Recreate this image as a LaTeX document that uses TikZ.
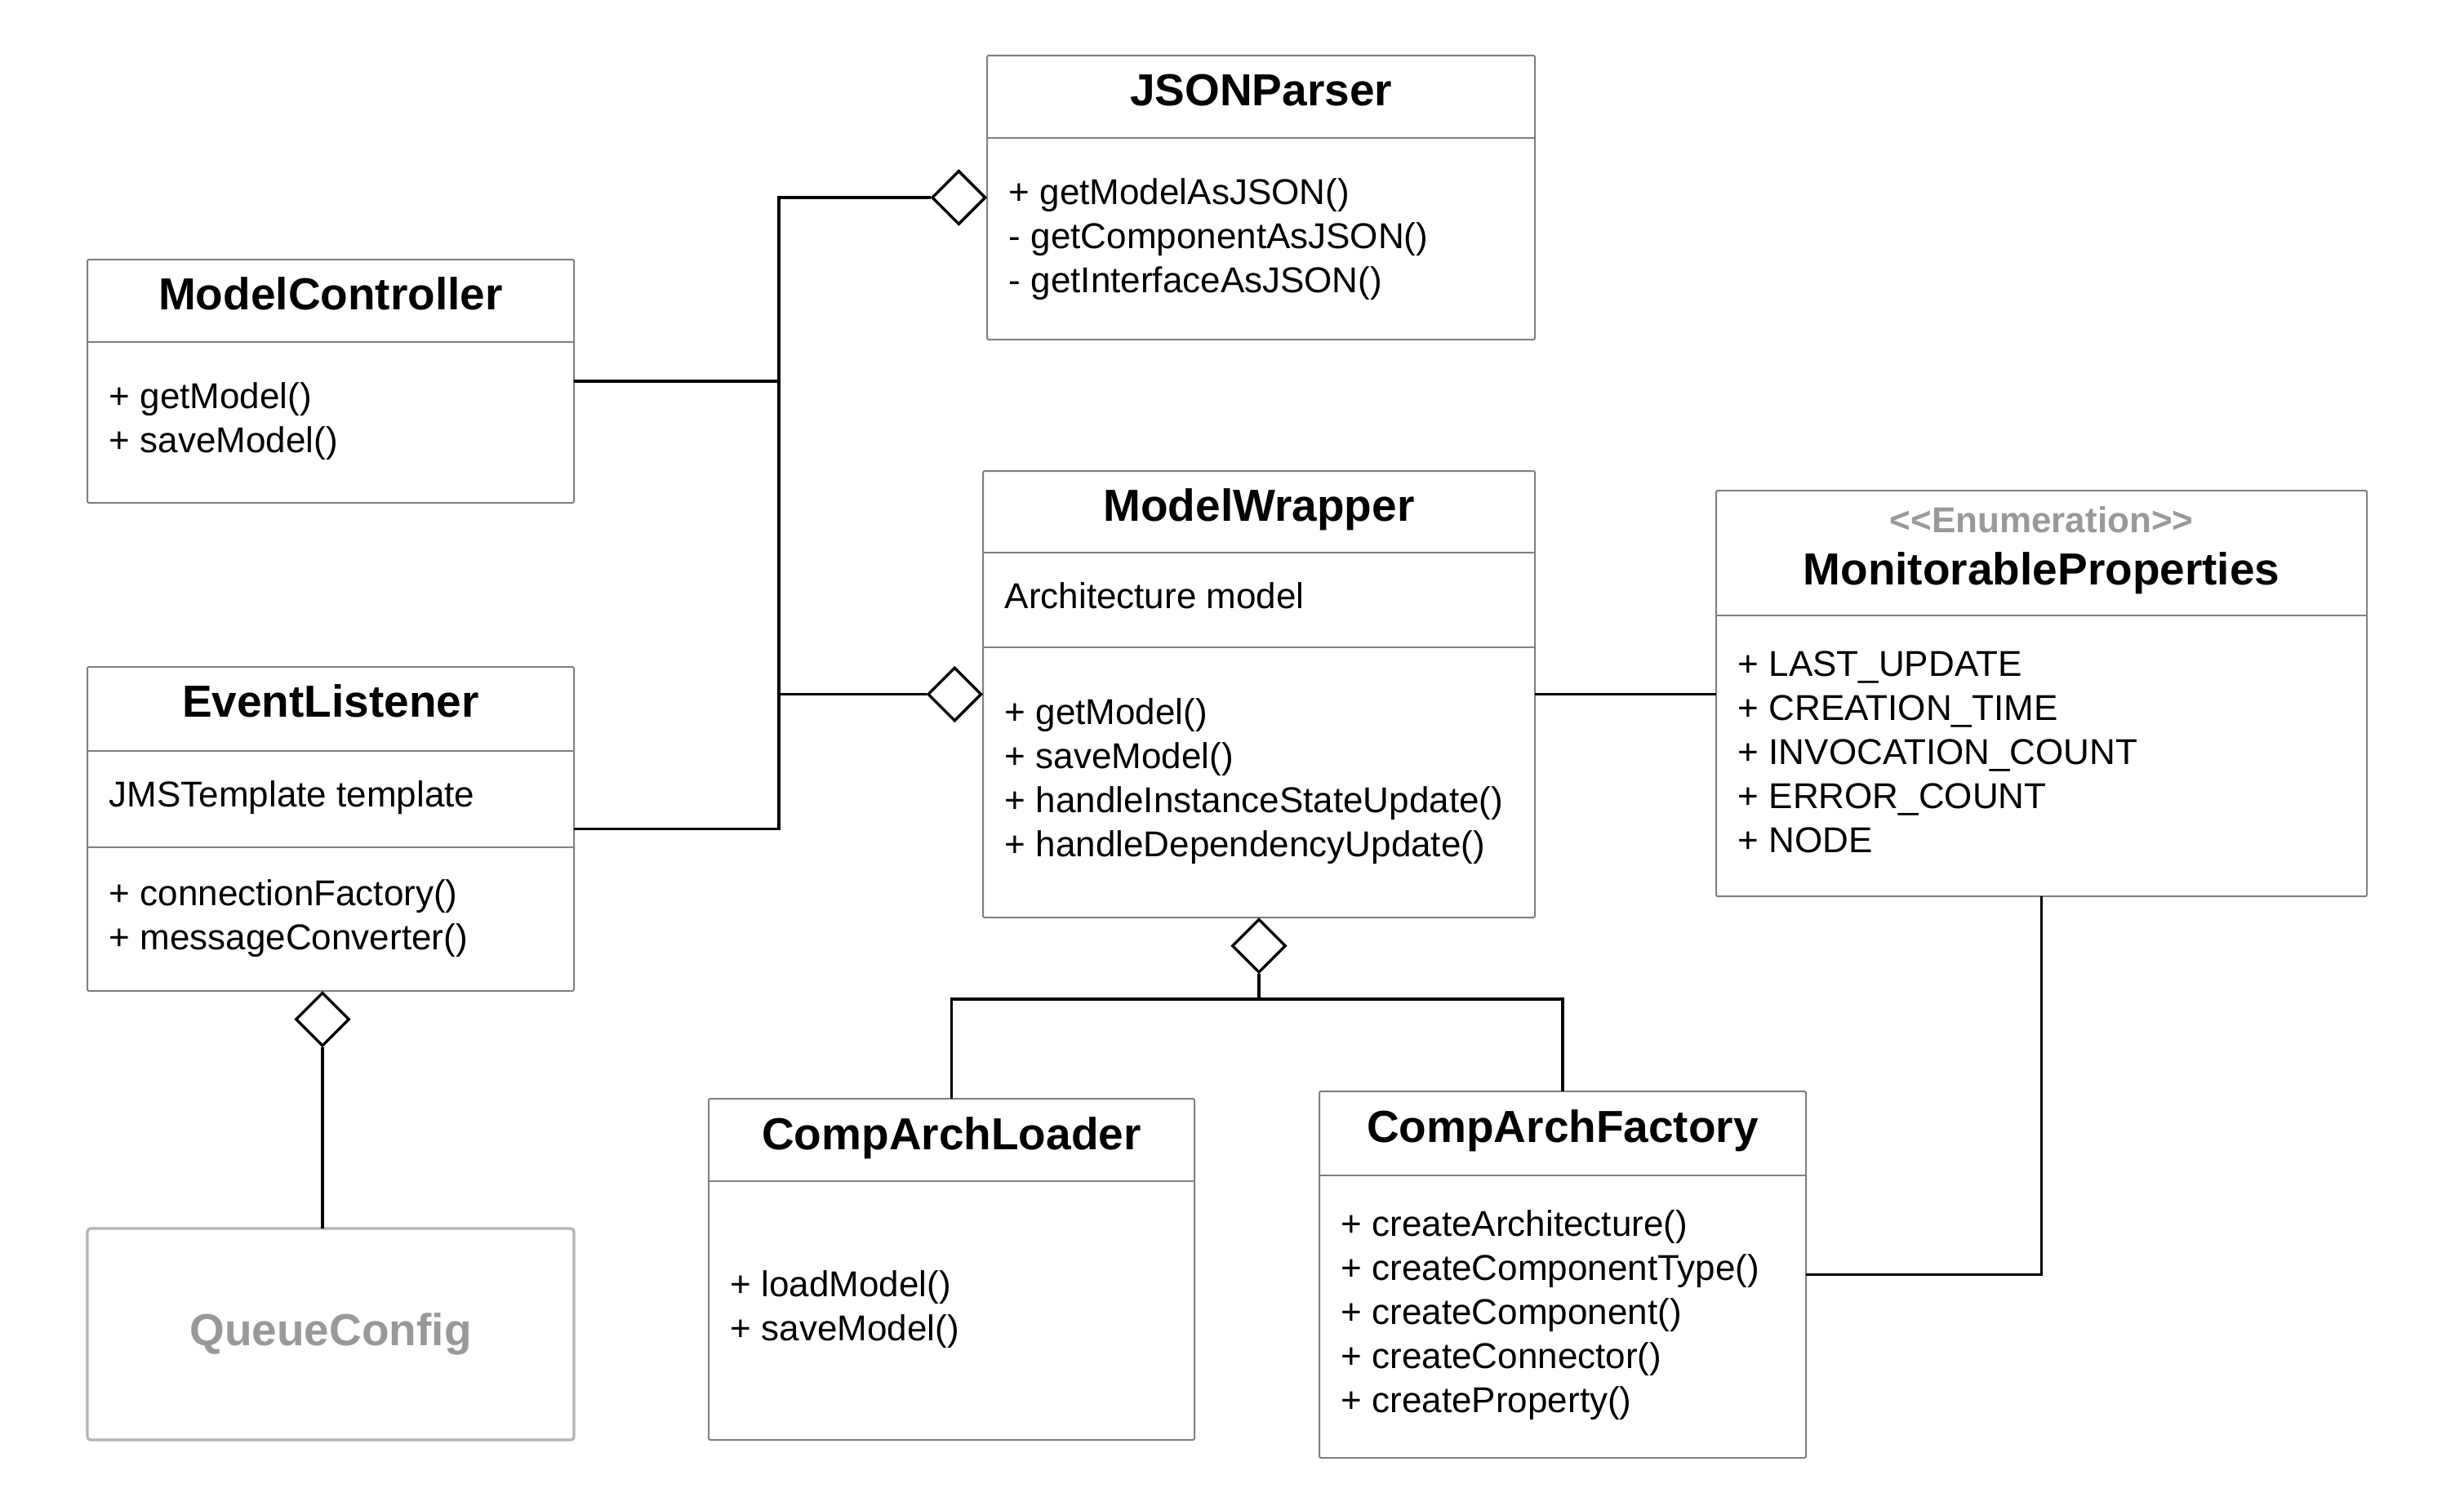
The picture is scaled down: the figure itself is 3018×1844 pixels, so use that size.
\documentclass[tikz,border=0pt]{standalone}
\usepackage{fontspec}
\setmainfont{Liberation Sans}
\usetikzlibrary{shapes.geometric,calc}
\definecolor{boxgray}{RGB}{128,128,128}
\definecolor{qcgray}{RGB}{180,180,180}
\definecolor{txtgray}{RGB}{153,153,153}
\tikzset{
  umlbox/.style={draw=boxgray, line width=0.5pt, fill=white, inner sep=0pt, outer sep=0pt,
    anchor=north west, rounded corners=0.5pt},
  ghostbox/.style={draw=qcgray, line width=0.85pt, fill=white, inner sep=0pt, outer sep=0pt,
    anchor=north west, rounded corners=1pt},
  sepline/.style={draw=boxgray, line width=0.5pt},
  titletext/.style={font=\fontsize{13.75}{16.5}\selectfont\bfseries, anchor=base, inner sep=0pt},
  stereotext/.style={font=\fontsize{11}{13.5}\selectfont\bfseries, text=txtgray, anchor=base, inner sep=0pt},
  bodytext/.style={font=\fontsize{11}{13.5}\selectfont, anchor=west, align=left, inner sep=0pt},
  conn/.style={line width=0.95pt, draw=black},
  aggr/.style={diamond, draw=black, line width=0.85pt, fill=white,
    minimum width=16.5pt, minimum height=16.5pt, inner sep=0pt},
}
\begin{document}
\begin{tikzpicture}[x=0.25pt,y=-0.25pt]
\useasboundingbox (0,0) rectangle (3018,1844);

% ---------- boxes ----------
\node[umlbox, minimum width=167.75pt, minimum height=87pt]    (jp)  at (1209,68)   {};
\node[umlbox, minimum width=149pt,    minimum height=74.5pt]  (mc)  at (107,318)   {};
\node[umlbox, minimum width=149pt,    minimum height=99.25pt] (el)  at (107,817)   {};
\node[ghostbox, minimum width=149pt,  minimum height=64.75pt] (qc)  at (107,1505)  {};
\node[umlbox, minimum width=169pt,    minimum height=136.75pt](mw)  at (1204,577)  {};
\node[umlbox, minimum width=199.25pt, minimum height=124.25pt](mp)  at (2102,601)  {};
\node[umlbox, minimum width=148.75pt, minimum height=104.5pt] (cal) at (868,1346)  {};
\node[umlbox, minimum width=149pt,    minimum height=112.25pt](caf) at (1616,1337) {};

% ---------- compartment separators ----------
\draw[sepline] (1209,169) -- (1880,169);
\draw[sepline] (107,419) -- (703,419);
\draw[sepline] (107,920) -- (703,920);
\draw[sepline] (107,1038) -- (703,1038);
\draw[sepline] (1204,677) -- (1880,677);
\draw[sepline] (1204,793) -- (1880,793);
\draw[sepline] (2102,754) -- (2899,754);
\draw[sepline] (868,1447) -- (1463,1447);
\draw[sepline] (1616,1440) -- (2212,1440);

% ---------- titles ----------
\node[titletext] (tjp)  at (1544.5,129) {JSONParser};
\node[titletext] (tmc)  at (405,379)    {ModelController};
\node[titletext] (tel)  at (405,878)    {EventListener};
\node[titletext] (tmw)  at (1542,638)   {ModelWrapper};
\node[stereotext] (smp) at (2500.5,652) {\textless\kern0pt\textless\kern0pt Enumeration\kern0pt\textgreater\kern0pt\textgreater};
\node[titletext] (tmp)  at (2500.5,716) {MonitorableProperties};
\node[titletext] (tcal) at (1165.5,1408) {CompArchLoader};
\node[titletext] (tcaf) at (1914,1399)  {CompArchFactory};
\node[titletext, text=txtgray] (tqc) at (405,1648) {QueueConfig};

% ---------- compartment texts ----------
\node[bodytext] (bjp) at (1235,293.5)
  {\strut+ getModelAsJSON()\\\strut- getComponentAsJSON()\\\strut- getInterfaceAsJSON()};
\node[bodytext] (bmc) at (133,516.5)
  {\strut+ getModel()\\\strut+ saveModel()};
\node[bodytext] (ael) at (133,978)
  {\strut JMSTemplate template};
\node[bodytext] (bel) at (133,1126)
  {\strut+ connectionFactory()\\\strut+ messageConverter()};
\node[bodytext] (amw) at (1230,735)
  {\strut Architecture model};
\node[bodytext] (bmw) at (1230,958)
  {\strut+ getModel()\\\strut+ saveModel()\\\strut+ handleInstanceStateUpdate()\\\strut+ handleDependencyUpdate()};
\node[bodytext] (bmp) at (2128,926)
  {\strut+ LAST\_UPDATE\\\strut+ CREATION\_TIME\\\strut+ INVOCATION\_COUNT\\\strut+ ERROR\_COUNT\\\strut+ NODE};
\node[bodytext] (bcal) at (894,1605)
  {\strut+ loadModel()\\\strut+ saveModel()};
\node[bodytext] (bcaf) at (1642,1612)
  {\strut+ createArchitecture()\\\strut+ createComponentType()\\\strut+ createComponent()\\\strut+ createConnector()\\\strut+ createProperty()};

% ---------- aggregation diamonds ----------
\node[aggr, anchor=east]  (djp)  at (jp.west) {};
\node[aggr, anchor=east]  (dmw)  at (mw.west) {};
\node[aggr, anchor=north] (dmwb) at (mw.south) {};
\node[aggr, anchor=north] (del)  at ([xshift=-2.5pt]el.south) {};

% ---------- connectors ----------
\coordinate (busx) at (954,0);
\coordinate (busy) at (0,1224);
\draw[conn] (mc.east) -| (busx |- djp.west) -- (djp.west);
\draw[conn] (mc.east) -| (busx |- dmw.west) -- (dmw.west);
\draw[conn] (el.east) -| (busx |- dmw.west) -- (dmw.west);
\draw[conn] (mw.east) -- (mw.east -| mp.west);
\draw[conn] (dmwb.south) -- (dmwb.south |- busy) -| (cal.north);
\draw[conn] (dmwb.south) -- (dmwb.south |- busy) -| (caf.north);
\draw[conn] (mp.south) |- (caf.east);
\draw[conn] (del.south) -- (del.south |- qc.north);
\end{tikzpicture}
\end{document}
